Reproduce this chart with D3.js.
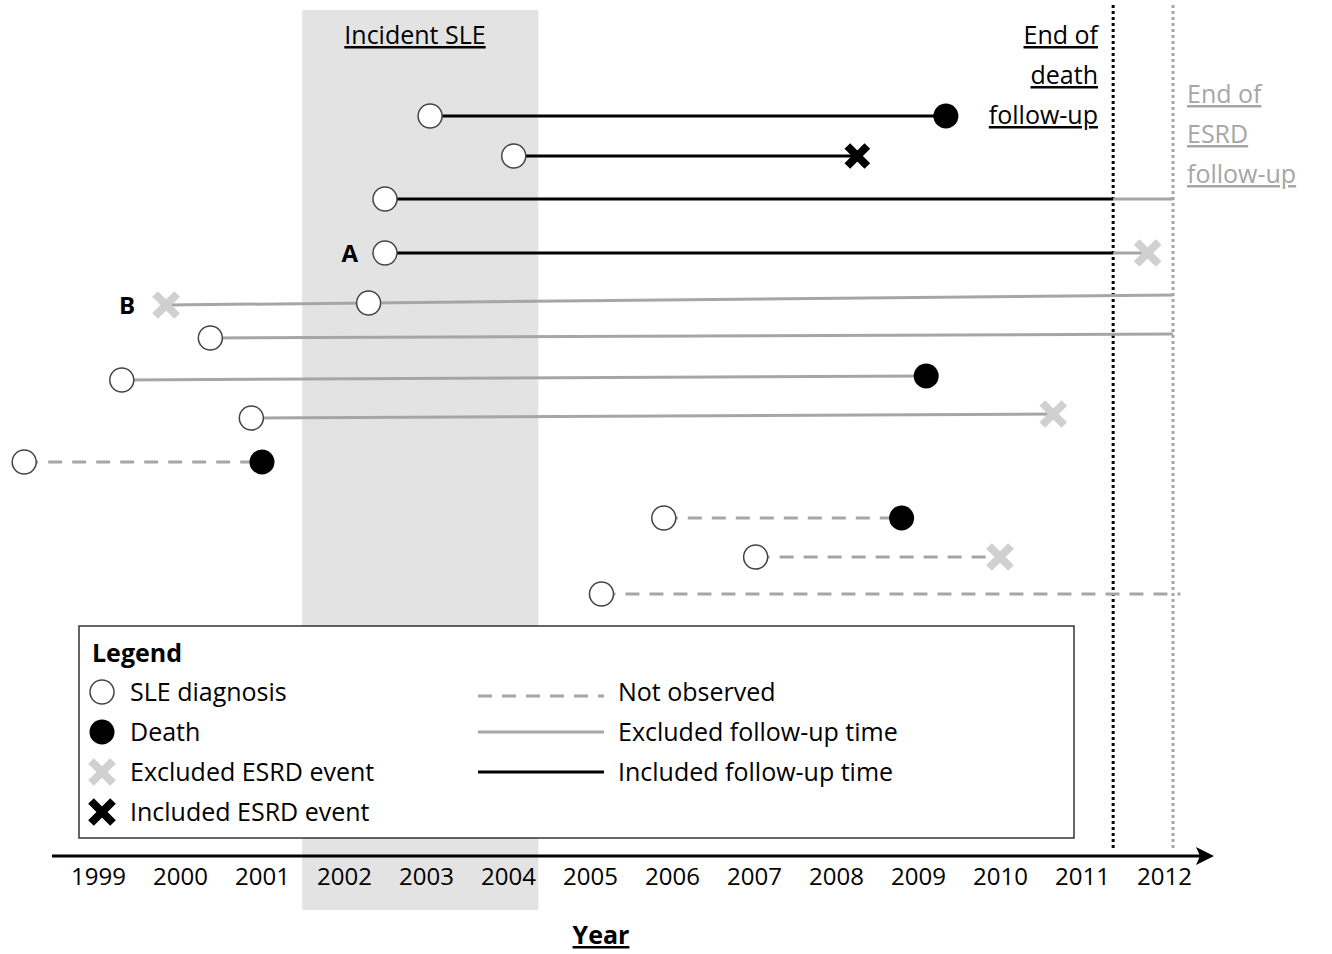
<!DOCTYPE html><html><head><meta charset="utf-8">
<script src="https://cdn.jsdelivr.net/npm/d3@7"></script>
<style>body{margin:0;background:#fff}text{font-family:"Open Sans",sans-serif}</style></head><body>
<svg id="c" width="1332" height="954"></svg>
<script>
const years=[1999,2000,2001,2002,2003,2004,2005,2006,2007,2008,2009,2010,2011,2012];
const incident=[2001.49,2004.37];
const endDeath=2011.38, endESRD=2012.11;
// rows: row position, start year, end year, end event, line style, label
const rowPos=[116,156,199,253,303,338,380,418,462,518,557,594];
const rowStart=[2003.05,2004.07,2002.5,2002.5,2002.3,2000.37,1999.29,2000.87,1998.1,2005.9,2007.02,2005.14];
const rowEnd=[2009.34,2008.26,2012.11,2011.8,2012.11,2012.11,2009.1,2010.65,2001.0,2008.8,2010.0,2012.2];
const rowEvent=["death","incX","none","exX","none","none","death","exX","death","death","exX","none"];
const rowStyle=["inc","inc","inc","inc","exc","exc","exc","exc","nob","nob","nob","nob"];
const rowLabel=["","","","A","","","","","","","",""];
const bStart=1999.83;

const svg=d3.select("#c");
const x=d3.scaleLinear().domain([1999,2012]).range([98,1164]);
const y=d3.scaleLinear().domain([0,1000]).range([0,1000]);
const grey="#a6a6a6", lgrey="#d0d0d0";
svg.append("rect").attr("x",x(incident[0])).attr("y",10).attr("width",x(incident[1])-x(incident[0])).attr("height",900).attr("fill","#e3e3e3");
svg.append("text").attr("x",415).attr("y",44).attr("text-anchor","middle").attr("font-size",25).attr("text-decoration","underline").text("Incident SLE");
svg.append("line").attr("x1",x(endDeath)).attr("x2",x(endDeath)).attr("y1",5).attr("y2",850).attr("stroke","#000").attr("stroke-width",3).attr("stroke-dasharray","3,3");
svg.append("line").attr("x1",x(endESRD)).attr("x2",x(endESRD)).attr("y1",5).attr("y2",850).attr("stroke",grey).attr("stroke-width",3).attr("stroke-dasharray","3,3");
["End of","death","follow-up"].forEach((t,i)=>svg.append("text").attr("x",1098).attr("y",44+i*40).attr("text-anchor","end").attr("font-size",25).attr("text-decoration","underline").text(t));
["End of","ESRD","follow-up"].forEach((t,i)=>svg.append("text").attr("x",1187).attr("y",103+i*40).attr("font-size",25).attr("fill",grey).attr("text-decoration","underline").text(t));

function xmark(g,cx,cy,col,s=11){
  g.append("path").attr("d",`M${cx-s},${cy-s}L${cx+s},${cy+s}M${cx+s},${cy-s}L${cx-s},${cy+s}`).attr("stroke",col).attr("stroke-width",8);
}
function circ(g,cx,cy){g.append("circle").attr("cx",cx).attr("cy",cy).attr("r",12).attr("fill","#fff").attr("stroke","#444").attr("stroke-width",1.5);}
function dot(g,cx,cy){g.append("circle").attr("cx",cx).attr("cy",cy).attr("r",12.5).attr("fill","#000");}

const g=svg.append("g");
rowPos.forEach((p,i)=>{
  const yy=y(p), s=rowStart[i], e=rowEnd[i], st=rowStyle[i];
  if(i===4){g.append("line").attr("x1",x(bStart)).attr("x2",x(e)).attr("y1",yy+2).attr("y2",yy-8).attr("stroke",grey).attr("stroke-width",3);}
  if(st==="inc"){
    const m=Math.min(e,endDeath);
    g.append("line").attr("x1",x(s)).attr("x2",x(m)).attr("y1",yy).attr("y2",yy).attr("stroke","#000").attr("stroke-width",3);
    if(e>endDeath) g.append("line").attr("x1",x(endDeath)).attr("x2",x(e)).attr("y1",yy).attr("y2",yy).attr("stroke",grey).attr("stroke-width",3);
  } else if(st==="exc"){
    if(i!==4) g.append("line").attr("x1",x(s)).attr("x2",x(e)).attr("y1",yy).attr("y2",yy-4).attr("stroke",grey).attr("stroke-width",3);
  } else {
    g.append("line").attr("x1",x(s)).attr("x2",x(e)).attr("y1",yy).attr("y2",yy).attr("stroke",grey).attr("stroke-width",3).attr("stroke-dasharray","14,10");
  }
  const ey=st==="exc"&&i!==4?yy-4:yy;
  if(rowEvent[i]==="death") dot(g,x(e),ey);
  if(rowEvent[i]==="incX") xmark(g,x(e),yy,"#000",10);
  if(rowEvent[i]==="exX") xmark(g,x(e),ey,lgrey);
  circ(g,x(s),yy);
  if(rowLabel[i]) g.append("text").attr("x",x(s)-27).attr("y",yy+9).attr("text-anchor","end").attr("font-size",24).attr("font-weight","bold").text(rowLabel[i]);
});
xmark(g,x(bStart),y(305),lgrey);
svg.append("text").attr("x",135).attr("y",314).attr("text-anchor","end").attr("font-size",24).attr("font-weight","bold").text("B");

const L=svg.append("g");
L.append("rect").attr("x",79).attr("y",626).attr("width",995).attr("height",212).attr("fill","#fff").attr("stroke","#333").attr("stroke-width",1.5);
L.append("text").attr("x",92).attr("y",662).attr("font-size",25).attr("font-weight","bold").text("Legend");
const li=["SLE diagnosis","Death","Excluded ESRD event","Included ESRD event"];
li.forEach((t,i)=>{const cy=692+i*40;
  if(i===0)circ(L,102,cy); if(i===1)dot(L,102,cy); if(i===2)xmark(L,102,cy,lgrey); if(i===3)xmark(L,102,cy,"#000");
  L.append("text").attr("x",130).attr("y",cy+9).attr("font-size",25).text(t);});
const ri=["Not observed","Excluded follow-up time","Included follow-up time"];
ri.forEach((t,i)=>{const cy=694+i*40;
  L.append("line").attr("x1",478).attr("x2",604).attr("y1",cy+(i?-2:2)).attr("y2",cy+(i?-2:2)).attr("stroke",i===2?"#000":grey).attr("stroke-width",3).attr("stroke-dasharray",i===0?"14,10":null);
  L.append("text").attr("x",618).attr("y",cy+7).attr("font-size",25).text(t);});

svg.append("line").attr("x1",52).attr("x2",1205).attr("y1",856).attr("y2",856).attr("stroke","#000").attr("stroke-width",3);
svg.append("path").attr("d","M1214,856L1196,847L1200,856L1196,865Z").attr("fill","#000");
const ax=svg.append("g").attr("transform","translate(0,856)").call(d3.axisBottom(x).tickValues(years).tickFormat(d3.format("d")).tickSize(0).tickPadding(12));
ax.select(".domain").remove();
ax.selectAll("text").attr("font-size",24).attr("font-family","'Open Sans',sans-serif").attr("fill","#000");
svg.append("text").attr("x",601).attr("y",944).attr("text-anchor","middle").attr("font-size",25).attr("font-weight","bold").attr("text-decoration","underline").text("Year");
</script></body></html>
